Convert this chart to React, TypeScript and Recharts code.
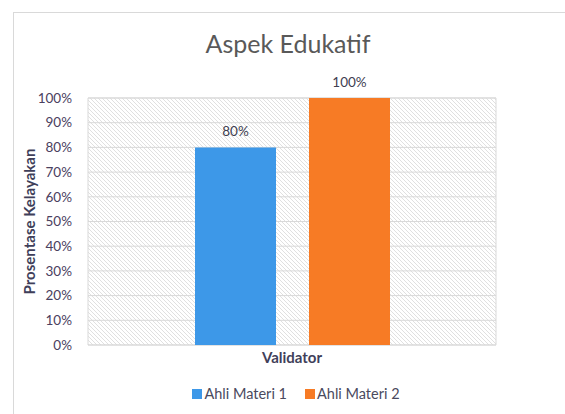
import React from 'react';
import { BarChart, Bar, XAxis, YAxis, CartesianGrid, LabelList, Legend, ReferenceArea } from 'recharts';

const chartTitle = 'Aspek Edukatif';
const categories = ['Validator'];
const seriesNames = ['Ahli Materi 1', 'Ahli Materi 2'];
const seriesValues = [80, 100];
const seriesColors = ['#3d98e8', '#f77b25'];
const yTicks = [0, 10, 20, 30, 40, 50, 60, 70, 80, 90, 100];
const yAxisTitle = 'Prosentase Kelayakan';
const xAxisTitle = 'Validator';

const data = categories.map((c) => {
  const row: any = { name: c };
  seriesNames.forEach((s, i) => (row[s] = seriesValues[i]));
  return row;
});

const FONT = 'Lato, "Open Sans", sans-serif';

const YLabel = (props: any) => {
  const vb = props.viewBox || {};
  const cx = vb.x + 29;
  const cy = vb.y + vb.height / 2;
  return (
    <text
      transform={`translate(${cx},${cy}) rotate(-90)`}
      textAnchor="middle"
      dominantBaseline="central"
      fontFamily={FONT}
      fontSize={15}
      fontWeight="bold"
      fill="#3f3f5a"
    >
      {yAxisTitle}
    </text>
  );
};

const XLabel = (props: any) => {
  const vb = props.viewBox || {};
  return (
    <text
      x={vb.x + vb.width / 2}
      y={vb.y + 18}
      textAnchor="middle"
      fontFamily={FONT}
      fontSize={15}
      fontWeight="bold"
      fill="#3f3f5a"
    >
      {xAxisTitle}
    </text>
  );
};

const LegendContent = () => (
  <div style={{ display: 'flex', justifyContent: 'center', fontFamily: FONT, fontSize: 14.5, color: '#4a4a5e' }}>
    {seriesNames.map((s, i) => (
      <div key={s} style={{ display: 'flex', alignItems: 'center', marginRight: i === 0 ? 18 : 0 }}>
        <span style={{ display: 'inline-block', width: 10, height: 10, background: seriesColors[i], marginRight: 2 }} />
        <span>{s}</span>
      </div>
    ))}
  </div>
);

export default function App() {
  return (
    <div style={{ position: 'fixed', left: 0, top: 0, width: 565, height: 414, overflow: 'hidden', background: '#fff' }}>
      <div
        style={{
          position: 'absolute',
          left: 13,
          top: 12,
          width: 700,
          height: 600,
          border: '1px solid #d9d9d9',
        }}
      />
      <div
        style={{
          position: 'absolute',
          left: 0,
          top: 27,
          width: 576,
          textAlign: 'center',
          fontFamily: FONT,
          fontSize: 25,
          lineHeight: '32px',
          color: '#595959',
        }}
      >
        {chartTitle}
      </div>
      <div style={{ position: 'absolute', left: 0, top: 0 }}>
        <BarChart
          width={565}
          height={414}
          data={data}
          margin={{ top: 98, right: 69, left: 0, bottom: 0 }}
          barGap={33}
          barSize={81}
        >
          <defs>
            <pattern id="hatch" patternUnits="userSpaceOnUse" width="4" height="4">
              <rect width="4" height="4" fill="#ffffff" />
              <path d="M-1,-1 L5,5 M-1,3 L1,5 M3,-1 L5,1" stroke="#e0e0e0" strokeWidth="1" />
            </pattern>
          </defs>
          <CartesianGrid vertical={false} stroke="#d9d9d9" fill="url(#hatch)" fillOpacity={1} />
          <ReferenceArea y1={0} y2={100} fill="none" stroke="#d9d9d9" ifOverflow="visible" />
          <XAxis
            dataKey="name"
            height={69}
            tick={false}
            tickLine={false}
            axisLine={false}
            label={<XLabel />}
          />
          <YAxis
            width={88}
            domain={[0, 100]}
            ticks={yTicks}
            interval={0}
            tickFormatter={(v: number) => `${v}%`}
            tickLine={false}
            axisLine={false}
            tickSize={0}
            tickMargin={16}
            tick={{ fontFamily: FONT, fontSize: 13.5, fill: '#4a4060' }}
            label={<YLabel />}
          />
          <Legend
            verticalAlign="middle"
            layout="horizontal"
            wrapperStyle={{ position: 'absolute', top: 385, left: 0, width: 592 }}
            content={<LegendContent />}
          />
          {seriesNames.map((s, i) => (
            <Bar key={s} dataKey={s} fill={seriesColors[i]} isAnimationActive={false}>
              <LabelList
                dataKey={s}
                position="top"
                offset={11}
                formatter={(v: number) => `${v}%`}
                style={{ fontFamily: FONT, fontSize: 13.5, fill: '#404050' }}
              />
            </Bar>
          ))}
        </BarChart>
      </div>
    </div>
  );
}
